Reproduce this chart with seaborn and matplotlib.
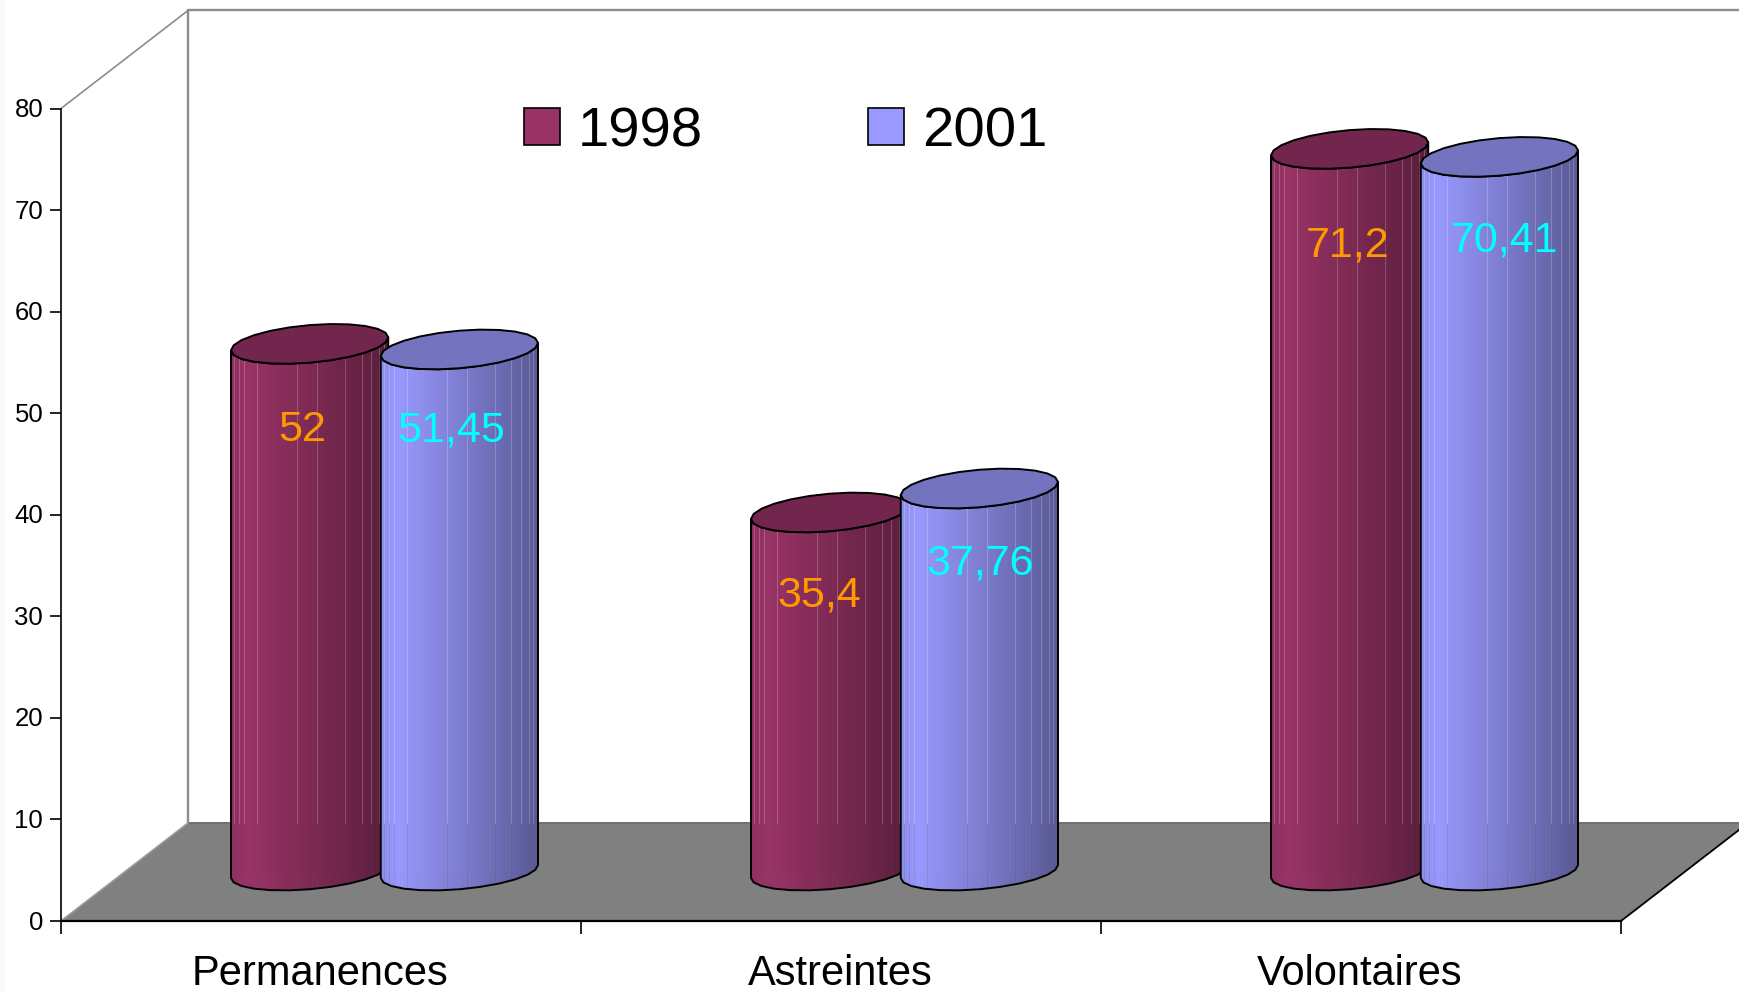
import numpy as np
import pandas as pd
import matplotlib
matplotlib.use("Agg")
import matplotlib.pyplot as plt
from matplotlib.patches import Polygon, Rectangle
from matplotlib.transforms import Affine2D, ScaledTranslation
import seaborn as sns

categories = ["Permanences", "Astreintes", "Volontaires"]
years = ["1998", "2001"]
values_1998 = [52, 35.4, 71.2]
values_2001 = [51.45, 37.76, 70.41]
y_ticks = [0, 10, 20, 30, 40, 50, 60, 70, 80]

colors = {"1998": "#993366", "2001": "#9999FF"}
label_colors = {"1998": "#FF9900", "2001": "#00FFFF"}
# how far each value label sits under the top of its cylinder
label_drop = {"1998": [8.5, 8.2, 9.5], "2001": [8.0, 7.4, 8.2]}
label_shift = {"1998": [-0.014, -0.02, -0.004], "2001": [-0.016, 0.002, 0.010]}

sns.set_theme(style="white")
plt.rcParams["font.family"] = ["Liberation Sans", "DejaVu Sans"]
plt.rcParams["text.color"] = "black"

df = pd.DataFrame({
    "category": categories * 2,
    "year": [years[0]] * 3 + [years[1]] * 3,
    "value": values_1998 + values_2001,
})

fig = plt.figure(figsize=(17.4, 9.92), dpi=100)
# faint off-white strip down the left edge of the original
fig.add_artist(Rectangle((0, 0), 5 / 1740, 1, transform=fig.transFigure, fc="#fafafa", ec="none"))
ax = fig.add_axes([61 / 1740, 1 - 921 / 992, 1560 / 1740, 812.5 / 992])

sns.barplot(data=df, x="category", y="value", hue="year", palette=colors,
            width=0.576, gap=-0.05, errorbar=None, saturation=1, linewidth=0, ax=ax)

ax.set_xlim(-0.5, 2.5)
ax.set_ylim(0, 80)
ax.set_xlabel("")
ax.set_ylabel("")
sns.despine(ax=ax)
ax.patch.set_alpha(0)

# depth of the fake 3d box, in data units
depth_x = 127 / 520
depth_y = 98 / 10.156

# floor and back walls
floor = Polygon([(-0.5, 0), (-0.5 + depth_x, depth_y), (2.5 + depth_x, depth_y), (2.5, 0)],
                closed=True, fc="#808080", ec="none", clip_on=False, zorder=0.5)
ax.add_patch(floor)
ax.plot([-0.5 + depth_x, 2.5 + depth_x], [depth_y, depth_y], color="#707070", lw=1.4, clip_on=False, zorder=0.6)
ax.plot([-0.5, -0.5 + depth_x], [80, 80 + depth_y], color="#8c8c8c", lw=1.2, clip_on=False, zorder=0.6)
ax.plot([-0.5 + depth_x, -0.5 + depth_x], [depth_y, 80 + depth_y], color="#8c8c8c", lw=1.7, clip_on=False, zorder=0.6)
ax.plot([-0.5 + depth_x, 2.5 + depth_x], [80 + depth_y, 80 + depth_y], color="#8c8c8c", lw=1.7, clip_on=False, zorder=0.6)
ax.plot([-0.5, -0.5 + depth_x], [0, depth_y], color="#9a9a9a", lw=1.2, clip_on=False, zorder=0.7)
ax.plot([2.5, 2.5 + depth_x], [0, depth_y], color="black", lw=1.3, clip_on=False, zorder=0.7)


def shade(base, u):
    f = np.interp(u, [0, 0.1, 0.5, 1], [0.92, 1.0, 0.82, 0.58])
    return tuple(np.array(matplotlib.colors.to_rgb(base)) * f)


def draw_cylinder(patch, base, z):
    # turn the flat seaborn bar into a faceted cylinder standing on the floor
    patch.set_transform(Affine2D().translate(depth_x / 2, depth_y / 2) + ax.transData)
    patch.set_zorder(z)
    a = patch.get_width() / 2
    xc = patch.get_x() + a + depth_x / 2
    y0 = depth_y / 2 + 0.05
    y1 = depth_y / 2 + patch.get_height()
    k = 0.64
    # coarse outline, that is what gives the edge its kinks
    t = np.linspace(np.pi, 2 * np.pi, 13)
    xo = xc + a * np.cos(t)
    top = y1 + k * np.cos(t) + 1.85 * np.sin(t)
    bot = y0 + k * np.cos(t) + 1.75 * np.sin(t)
    x = np.linspace(xo[0], xo[-1], 41)
    top_f = np.interp(x, xo, top)
    bot_f = np.interp(x, xo, bot)
    for i in range(len(x) - 1):
        u = ((x[i] + x[i + 1]) / 2 - x[0]) / (x[-1] - x[0])
        ax.add_patch(Polygon([(x[i], top_f[i]), (x[i + 1], top_f[i + 1]),
                              (x[i + 1], bot_f[i + 1]), (x[i], bot_f[i])],
                             closed=True, fc=shade(base, u), ec=shade(base, u), lw=0.3,
                             clip_on=False, zorder=z + 0.1))
    for u in [0.02, 0.05, 0.085, 0.165, 0.42, 0.55, 0.725, 0.83, 0.89, 0.94, 0.97]:
        xs = x[0] + u * (x[-1] - x[0])
        ax.plot([xs, xs], [np.interp(xs, xo, top), depth_y], color="white", alpha=0.22, lw=0.7,
                clip_on=False, zorder=z + 0.2)
        ax.plot([xs, xs], [depth_y, np.interp(xs, xo, bot)], color="#555555", alpha=0.18, lw=0.7,
                clip_on=False, zorder=z + 0.2)
    # outline of the body, then the top lid
    outline = list(zip(xo, top)) + list(zip(xo[::-1], bot[::-1]))
    body = Polygon(outline, closed=True, fc="none", ec="black", lw=1.4, joinstyle="round",
                   clip_on=False, zorder=z + 0.3, transform=ax.transData)
    ax.add_patch(body)
    patch.set_clip_path(body)
    t2 = np.linspace(0, 2 * np.pi, 25)
    lid = list(zip(xc + a * np.cos(t2), y1 + k * np.cos(t2) + 1.85 * np.sin(t2)))
    ax.add_patch(Polygon(lid, closed=True, fc=np.array(matplotlib.colors.to_rgb(base)) * 0.75,
                         ec="black", lw=1.4, joinstyle="round", clip_on=False, zorder=z + 0.4))
    return xc, y1


z = 3
for year, container in zip(years, ax.containers):
    for i, patch in enumerate(container.patches):
        xc, top = draw_cylinder(patch, colors[year], z)
        value = patch.get_height()
        ax.text(xc + label_shift[year][i], top - label_drop[year][i],
                f"{value:g}".replace(".", ","), color=label_colors[year], fontsize=31,
                ha="center", va="center", zorder=z + 0.5, clip_on=False)
        z += 1

# axes, ticks
ax.set_yticks(y_ticks)
ax.tick_params(axis="y", length=8, width=1.2, labelsize=18.5, pad=4.8, left=True, color="black", labelcolor="black")
for lab in ax.get_yticklabels():
    lab.set_transform(lab.get_transform() + ScaledTranslation(0, 1 / 100, fig.dpi_scale_trans))
ax.set_xticks([-0.5, 0.5, 1.5, 2.5], minor=True)
ax.tick_params(axis="x", which="minor", length=9.5, width=1.2, bottom=True, color="black")
ax.tick_params(axis="x", which="major", length=0, labelsize=30, pad=23.5, labelcolor="black")
for lab in ax.get_xticklabels():
    lab.set_transform(lab.get_transform() + ScaledTranslation(-1 / 100, 0, fig.dpi_scale_trans))
ax.spines["left"].set_color("black")
ax.spines["left"].set_linewidth(1.2)
ax.spines["bottom"].set_color("black")
ax.spines["bottom"].set_linewidth(1.6)
ax.spines["left"].set_zorder(20)
ax.spines["bottom"].set_zorder(20)

sns.move_legend(ax, "center left", bbox_to_anchor=(0.2968, 0.971), ncol=2, title=None, frameon=False,
                fontsize=40.5, handlelength=0.64, handleheight=0.64, handletextpad=0.32,
                columnspacing=2.93, borderpad=0, borderaxespad=0, labelcolor="black")
for h in ax.get_legend().legend_handles:
    h.set_edgecolor("black")
    h.set_linewidth(1.2)
ax.get_legend().set_zorder(30)

fig.savefig("out.png", dpi=100)
